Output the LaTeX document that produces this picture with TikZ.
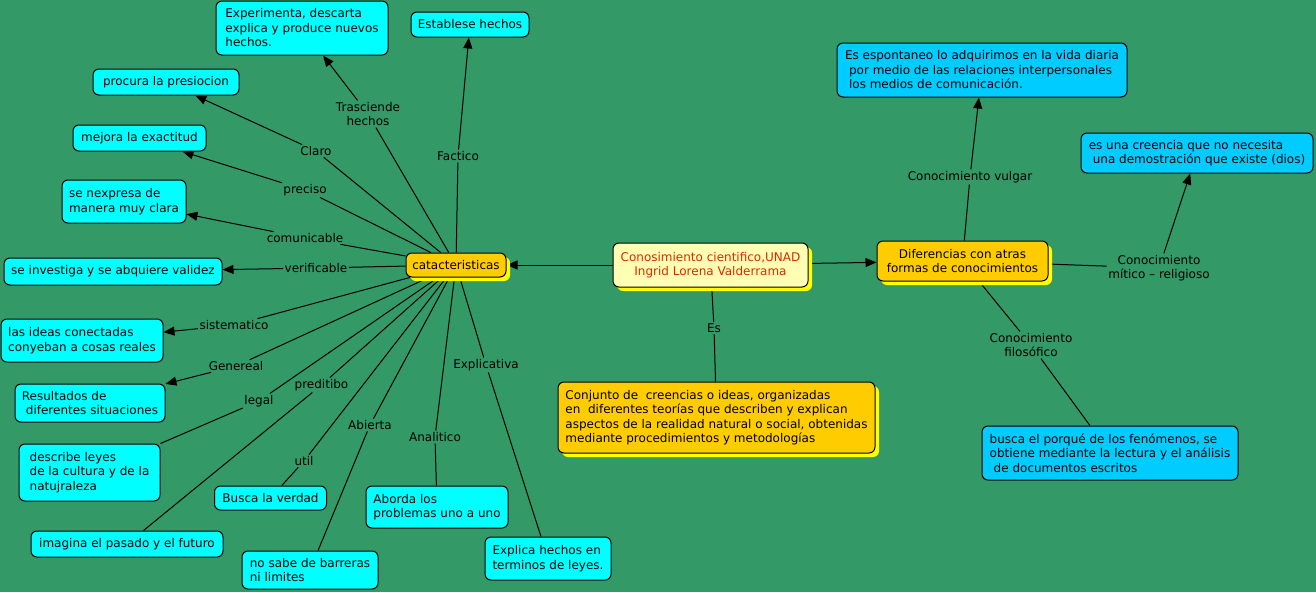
\documentclass[tikz,border=0pt]{standalone}
\usepackage{fontspec}
\setmainfont{DejaVu Sans}
\usetikzlibrary{arrows.meta,shadows}
\definecolor{bggreen}{RGB}{51,153,102}
\definecolor{cyanfill}{RGB}{0,255,255}
\definecolor{bluefill}{RGB}{0,204,255}
\definecolor{orangefill}{RGB}{255,204,0}
\definecolor{paleyellow}{RGB}{255,255,180}
\definecolor{shadowyellow}{RGB}{255,255,0}
\definecolor{redtext}{RGB}{220,40,0}
\pgfdeclarelayer{bglayer}
\pgfdeclarelayer{edgelayer}
\pgfsetlayers{bglayer,edgelayer,main}
\begin{document}
\begin{tikzpicture}[x=1pt,y=-1pt,
  every node/.style={font=\fontsize{12}{14.5}\selectfont},
  box/.style={draw=black, line width=1pt, rounded corners=6pt, inner sep=2pt, align=left},
  cbox/.style={box, fill=cyanfill},
  bbox/.style={box, fill=bluefill},
  ybshadow/.style={drop shadow={shadow xshift=4pt, shadow yshift=-4pt, fill=shadowyellow, opacity=1}},
  obox/.style={box, fill=orangefill, ybshadow},
  pbox/.style={box, fill=paleyellow, text=redtext, align=center, ybshadow},
  lab/.style={inner sep=1.5pt, align=center, text=black},
  conn/.style={draw=black, line width=1pt},
  arr/.style={conn, -{Triangle[length=11pt,width=9pt]}},
]
\useasboundingbox (0,0) rectangle (1316,592);
\begin{pgfonlayer}{bglayer}
  \fill[bggreen] (0,0) rectangle (1316,592);
\end{pgfonlayer}

% central nodes
\node[obox, minimum width=100pt, minimum height=24pt] (cat) at (456,265) {catacteristicas};
\node[pbox, minimum width=195pt, minimum height=44pt] (cono) at (710.5,265) {Conosimiento cientifico,UNAD\\Ingrid Lorena Valderrama};
\node[obox, minimum width=317pt, minimum height=71pt] (conj) at (716.5,417.5) {Conjunto de\ \ creencias o ideas, organizadas\\en\ \ diferentes teorías que describen y explican\\aspectos de la realidad natural o social, obtenidas\\mediante procedimientos y metodologías};
\node[obox, align=center, minimum width=171pt, minimum height=40pt] (dif) at (962.5,261) {Diferencias con atras\\formas de conocimientos};

% left cyan nodes
\node[cbox, minimum width=172pt, minimum height=54pt] (exp) at (302,28) {Experimenta, descarta\\explica y produce nuevos\\hechos.};
\node[cbox, minimum width=118pt, minimum height=25pt] (est) at (470,24.5) {Establese hechos};
\node[cbox, minimum width=146pt, minimum height=26pt] (proc) at (166,82) {procura la presiocion};
\node[cbox, minimum width=133pt, minimum height=26pt] (mej) at (139.5,138) {mejora la exactitud};
\node[cbox, minimum width=124pt, minimum height=43pt] (nexp) at (124,201.5) {se nexpresa de\\manera muy clara};
\node[cbox, minimum width=218pt, minimum height=27pt] (inv) at (113,271.5) {se investiga y se abquiere validez};
\node[cbox, minimum width=162pt, minimum height=43pt] (ideas) at (82,340.5) {las ideas conectadas\\conyeban a cosas reales};
\node[cbox, minimum width=150pt, minimum height=38pt] (res) at (90,403) {Resultados de\\\hspace*{4pt}diferentes situaciones};
\node[cbox, minimum width=141pt, minimum height=57pt] (desc) at (89.5,472.5) {describe leyes\\de la cultura y de la\\natujraleza};
\node[cbox, minimum width=192pt, minimum height=26pt] (imag) at (127,544) {imagina el pasado y el futuro};
\node[cbox, minimum width=112pt, minimum height=24pt] (busv) at (270.5,498) {Busca la verdad};
\node[cbox, minimum width=136pt, minimum height=38pt] (nosabe) at (310,570) {no sabe de barreras\\ni limites};
\node[cbox, minimum width=142pt, minimum height=42pt] (abor) at (437,507) {Aborda los\\problemas uno a uno};
\node[cbox, minimum width=126pt, minimum height=43pt] (expl) at (548,558.5) {Explica hechos en\\terminos de leyes.};

% right blue nodes
\node[bbox, minimum width=290pt, minimum height=54pt] (esp) at (982,70) {Es espontaneo lo adquirimos en la vida diaria\\\hspace*{4pt}por medio de las relaciones interpersonales\\\hspace*{4pt}los medios de comunicación.};
\node[bbox, minimum width=232pt, minimum height=40pt] (cree) at (1197,153) {es una creencia que no necesita\\\hspace*{4pt}una demostración que existe (dios)};
\node[bbox, minimum width=256pt, minimum height=54pt] (porq) at (1110,453) {busca el porqué de los fenómenos, se\\obtiene mediante la lectura y el análisis\\\hspace*{4pt}de documentos escritos};

% linking phrases
\node[lab] (trasc) at (368,114) {Trasciende\\hechos};
\node[lab] (fact) at (458,156) {Factico};
\node[lab] (claro) at (316,151) {Claro};
\node[lab] (prec) at (305,190) {preciso};
\node[lab] (comu) at (305,238) {comunicable};
\node[lab] (veri) at (316,268) {verificable};
\node[lab] (sist) at (234,325) {sistematico};
\node[lab] (gene) at (236,366) {Genereal};
\node[lab] (legal) at (259,401) {legal};
\node[lab] (pred) at (321.5,385) {preditibo};
\node[lab] (abie) at (370,425) {Abierta};
\node[lab] (util) at (304,461) {util};
\node[lab] (anal) at (435,437) {Analitico};
\node[lab] (expli) at (486,365) {Explicativa};
\node[lab] (es) at (714,328) {Es};
\node[lab] (vulg) at (970,177) {Conocimiento vulgar};
\node[lab] (mit) at (1159,268) {Conocimiento\\mítico – religioso};
\node[lab] (filo) at (1031,345) {Conocimiento\\filosófico};

\begin{pgfonlayer}{edgelayer}
  \draw[conn] (cat) -- (trasc); \draw[arr] (trasc) -- (exp);
  \draw[conn] (cat) -- (fact);  \draw[arr] (fact) -- (est);
  \draw[conn] (cat) -- (claro); \draw[arr] (claro) -- (proc);
  \draw[conn] (cat) -- (prec);  \draw[arr] (prec) -- (mej);
  \draw[conn] (cat) -- (comu);  \draw[arr] (comu) -- (nexp);
  \draw[conn] (cat) -- (veri);  \draw[arr] (veri) -- (inv);
  \draw[conn] (cat) -- (sist);  \draw[arr] (sist) -- (ideas);
  \draw[conn] (cat) -- (gene);  \draw[arr] (gene) -- (res);
  \draw[conn] (cat) -- (legal); \draw[conn] (legal) -- (desc.north east);
  \draw[conn] (cat) -- (pred);  \draw[conn] (pred) -- (imag);
  \draw[conn] (cat) -- (util);  \draw[conn] (util) -- (busv);
  \draw[conn] (cat) -- (abie);  \draw[conn] (abie) -- (nosabe);
  \draw[conn] (cat) -- (anal);  \draw[conn] (anal) -- (abor);
  \draw[conn] (cat) -- (expli); \draw[conn] (expli) -- (expl);
  \draw[arr] (cono) -- (cat);
  \draw[arr] (cono) -- (dif);
  \draw[conn] (cono) -- (es); \draw[conn] (es) -- (conj);
  \draw[conn] (dif) -- (vulg); \draw[arr] (vulg) -- (esp);
  \draw[conn] (dif) -- (mit);  \draw[arr] (mit) -- (cree);
  \draw[conn] (dif) -- (filo); \draw[conn] (filo) -- (porq);
\end{pgfonlayer}
\end{tikzpicture}
\end{document}
